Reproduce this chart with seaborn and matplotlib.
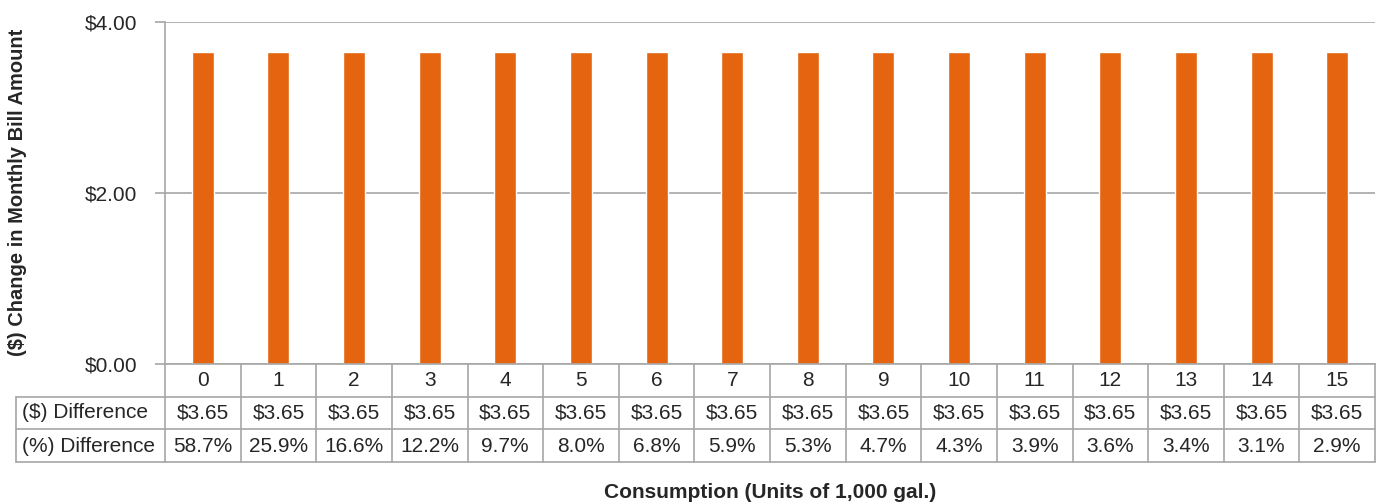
import matplotlib
matplotlib.use("Agg")
import matplotlib.pyplot as plt
import matplotlib.transforms as mtransforms
import seaborn as sns
import pandas as pd

# chart data
consumption = [str(i) for i in range(16)]
dollar_diff = [3.65] * 16
pct_diff = [58.7, 25.9, 16.6, 12.2, 9.7, 8.0, 6.8, 5.9, 5.3, 4.7, 4.3, 3.9, 3.6, 3.4, 3.1, 2.9]
row_labels = ["($) Difference", "(%) Difference"]
y_ticks = [0, 2, 4]

df = pd.DataFrame({"Consumption": consumption, "Diff": dollar_diff})

sns.set_theme(style="white")
plt.rcParams['font.family'] = ['Liberation Sans', 'DejaVu Sans']

bar_color = "#E46410"
grid_color = "#A6A6A6"
text_color = "#262626"

fig = plt.figure(figsize=(13.85, 5.03), dpi=100)
ax = fig.add_axes([165 / 1385, 1 - 364 / 503, 1210 / 1385, 342 / 503])

sns.barplot(data=df, x="Consumption", y="Diff", color=bar_color, width=0.29,
            saturation=1, ax=ax)

n = len(consumption)
ax.set_ylim(0, 4)
ax.set_yticks(y_ticks)
ax.set_yticklabels(["${:.2f}".format(v) for v in y_ticks], fontsize=15, color=text_color)
ax.tick_params(axis="y", length=7, width=1.2, color=grid_color, pad=13, left=True)
ax.tick_params(axis="x", bottom=False, labelbottom=False)
ax.set_xlabel("")
ax.set_ylabel("")
ax.yaxis.grid(True, color=grid_color, linewidth=1.2)
ax.set_axisbelow(True)
for s in ["top", "right"]:
    ax.spines[s].set_visible(False)
for s in ["left", "bottom"]:
    ax.spines[s].set_color(grid_color)
    ax.spines[s].set_linewidth(1.2)

# data table under the plot
trans = mtransforms.blended_transform_factory(ax.transData, ax.transAxes)
row_bottoms = [-0.0965, -0.190, -0.2865]
row_centers = [-0.0497, -0.143, -0.240]
lab_left = (16 - 165) / 1210

for i in range(n + 1):
    ax.plot([i - 0.5, i - 0.5], [0, row_bottoms[-1]], transform=trans, color=grid_color,
            linewidth=1.2, clip_on=False)
for yb in row_bottoms:
    ax.plot([-0.5, n - 0.5], [yb, yb], transform=trans, color=grid_color, linewidth=1.2,
            clip_on=False)
# row label column
for yb in row_bottoms:
    ax.plot([lab_left, 0], [yb, yb], transform=ax.transAxes, color=grid_color,
            linewidth=1.2, clip_on=False)
ax.plot([lab_left, lab_left], [row_bottoms[0], row_bottoms[2]], transform=ax.transAxes,
        color=grid_color, linewidth=1.2, clip_on=False)

for i in range(n):
    ax.text(i, row_centers[0], consumption[i], transform=trans, ha="center", va="center",
            fontsize=15, color=text_color)
    ax.text(i, row_centers[1], "${:.2f}".format(dollar_diff[i]), transform=trans,
            ha="center", va="center", fontsize=15, color=text_color)
    ax.text(i, row_centers[2], "{:.1f}%".format(pct_diff[i]), transform=trans,
            ha="center", va="center", fontsize=15, color=text_color)
for lbl, yc in zip(row_labels, row_centers[1:]):
    ax.text(lab_left + 6 / 1210, yc, lbl, transform=ax.transAxes, ha="left", va="center",
            fontsize=15, color=text_color)

ax.set_xlim(-0.5, n - 0.5)

fig.text(770 / 1385, 1 - 493 / 503, "Consumption (Units of 1,000 gal.)", ha="center",
         va="center", fontsize=15, fontweight="bold", color=text_color)
fig.text(18 / 1385, 1 - 192 / 503, "($) Change in Monthly Bill Amount", ha="center",
         va="center", rotation=90, fontsize=14.5, fontweight="bold", color=text_color)

fig.savefig("out.png", dpi=100)
